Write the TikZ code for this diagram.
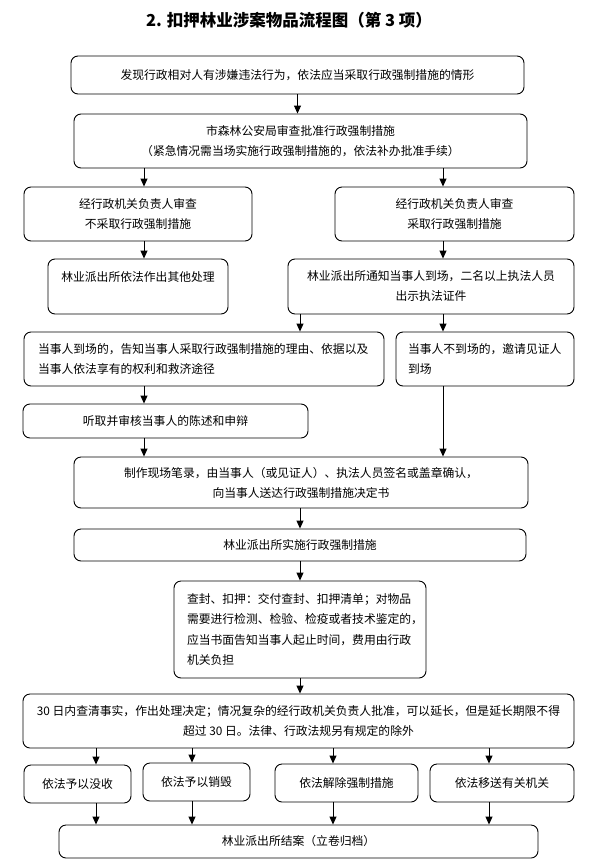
\documentclass[tikz,border=0pt]{standalone}
\usepackage{fontspec}
\newfontfamily\cjk{Noto Sans CJK SC}
\usetikzlibrary{arrows.meta}
\begin{document}
\begin{tikzpicture}[x=1pt, y=-1pt]
    \tikzstyle{box}=[draw, rounded corners=7pt, line width=0.9pt, inner sep=0pt, align=center, font=\cjk\fontsize{11.8}{20}\selectfont]
    \tikzstyle{arr}=[line width=0.9pt, -{Triangle[width=7pt,length=8pt]}]
    \useasboundingbox (0,0) rectangle (590,860);
    \node[font=\cjk\bfseries\fontsize{16.5}{20}\selectfont] (title) at (289,20) {2. 扣押林业涉案物品流程图（第 3 项）};
    \node[box, minimum width=453pt, minimum height=38pt] (b1) at (297.5,75) {发现行政相对人有涉嫌违法行为，依法应当采取行政强制措施的情形};
    \node[box, minimum width=453pt, minimum height=54pt] (b2) at (300.5,141) {市森林公安局审查批准行政强制措施\\（紧急情况需当场实施行政强制措施的，依法补办批准手续）};
    \node[box, minimum width=228pt, minimum height=54pt] (b3l) at (138,214) {经行政机关负责人审查\\不采取行政强制措施};
    \node[box, minimum width=239pt, minimum height=54pt] (b3r) at (454.5,214) {经行政机关负责人审查\\采取行政强制措施};
    \node[box, minimum width=180pt, minimum height=55pt] (b4l) at (138,286.5) {林业派出所依法作出其他处理\\\mbox{}};
    \node[box, minimum width=286pt, minimum height=55pt] (b4r) at (431,286.5) {林业派出所通知当事人到场，二名以上执法人员\\出示执法证件};
    \node[box, minimum width=360pt, minimum height=54pt, align=left, text width=332pt] (b5l) at (204,359) {当事人到场的，告知当事人采取行政强制措施的理由、依据以及\\当事人依法享有的权利和救济途径};
    \node[box, minimum width=178pt, minimum height=54pt, align=left, text width=154pt] (b5r) at (485,359) {当事人不到场的，邀请见证人\\到场};
    \node[box, minimum width=285pt, minimum height=34pt] (b6) at (165.5,421) {听取并审核当事人的陈述和申辩};
    \node[box, minimum width=454pt, minimum height=51pt] (b7) at (301,482.5) {制作现场笔录，由当事人（或见证人）、执法人员签名或盖章确认，\\向当事人送达行政强制措施决定书};
    \node[box, minimum width=452pt, minimum height=32pt] (b8) at (300,545) {林业派出所实施行政强制措施};
    \node[box, minimum width=252pt, minimum height=97pt, align=left, text width=226pt, font=\cjk\fontsize{11.8}{20.5}\selectfont] (b9) at (300,629.5) {查封、扣押：交付查封、扣押清单；对物品\\需要进行检测、检验、检疫或者技术鉴定的，\\应当书面告知当事人起止时间，费用由行政\\机关负担};
    \node[box, minimum width=551pt, minimum height=54pt] (b10) at (298.5,721) {30 日内查清事实，作出处理决定；情况复杂的经行政机关负责人批准，可以延长，但是延长期限不得\\超过 30 日。法律、行政法规另有规定的除外};
    \node[box, minimum width=479pt, minimum height=33pt] (b12) at (298.5,841.5) {林业派出所结案（立卷归档）};
    % arrow columns
    \coordinate (cl) at (144,0);
    \coordinate (cm) at (300,0);
    \coordinate (cr) at (443,0);
    \draw[arr] (b1.south -| b1) -- (b2.north -| b1);
    \draw[arr] (b2.south -| cl) -- (b3l.north -| cl);
    \draw[arr] (b2.south -| cr) -- (b3r.north -| cr);
    \draw[arr] (b3l.south -| cl) -- (b4l.north -| cl);
    \draw[arr] (b3r.south -| cr) -- (b4r.north -| cr);
    \draw[arr] (b4r.south -| cm) -- (b5l.north -| cm);
    \draw[arr] (b4r.south -| cr) -- (b5r.north -| cr);
    \draw[arr] (b5l.south -| cl) -- (b6.north -| cl);
    \draw[arr] (b6.south -| cl) -- (b7.north -| cl);
    \draw[arr] (b5r.south -| cr) -- (b7.north -| cr);
    \draw[arr] (b7.south -| cm) -- (b8.north -| cm);
    \draw[arr] (b8.south -| cm) -- (b9.north -| cm);
    \draw[arr] (b9.south -| cm) -- (b10.north -| cm);
    % four outcomes
    \foreach \n/\x/\y/\w/\ax/\t in {a/77.5/784/107/96/依法予以没收, b/196.5/782/107/192/依法予以销毁, c/346.5/783/143/333/依法解除强制措施, d/502/783/144/489/依法移送有关机关} {
      \node[box, minimum width=\w pt, minimum height=38pt] (s\n) at (\x,\y) {\t};
      \coordinate (c\n) at (\ax,0);
      \draw[arr] (b10.south -| c\n) -- (s\n.north -| c\n);
      \draw[arr] (s\n.south -| c\n) -- (b12.north -| c\n);
    }
\end{tikzpicture}
\end{document}
